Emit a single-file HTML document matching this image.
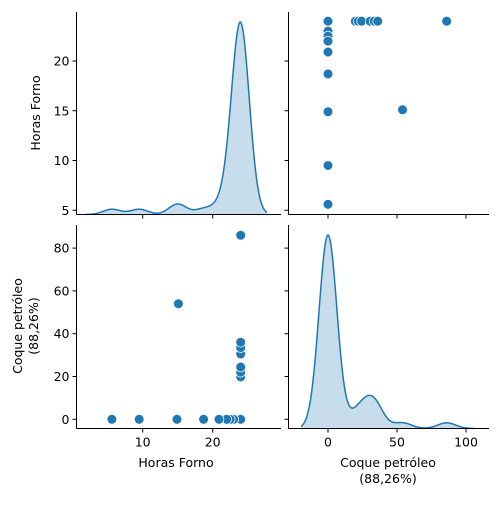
<!DOCTYPE html>
<html><head><meta charset="utf-8">
<style>
html,body{margin:0;padding:0;background:#fff;}
svg text{font-family:"DejaVu Sans","Liberation Sans",sans-serif;fill:#000;}
</style></head>
<body>
<svg id="chart" width="500" height="500" viewBox="0 0 500 500" xmlns="http://www.w3.org/2000/svg"></svg>
<script>
// Data (Horas Forno, Coque petróleo)
const horas = [24,23,22.5,22,20.9,18.7,14.9,9.5,5.6,15.1,24,24,24,24,24,24,24];
const coque = [0,0,0,0,0,0,0,0,0,54,19.8,22,24.4,30.5,33.5,36,86];
// duplicated observations hidden behind identical markers
const dupZeroCount = 25;
const dupCoque = [30.5,33.5];
const horasTicks = [5,10,15,20];
const horasXTicks = [10,20];
const coqueTicks = [0,20,40,60,80];
const coqueXTicks = [0,50,100];

const svg = document.getElementById('chart');
const NS = 'http://www.w3.org/2000/svg';
function mk(tag, attrs, parent){const e=document.createElementNS(NS,tag);for(const k in attrs)e.setAttribute(k,attrs[k]);(parent||svg).appendChild(e);return e;}

// scales
const hx = v => 72.7 + v*7;
const hy = v => 260 - v*9.95;
const cx = v => 328 + v*1.38;
const cy = v => 419.3 - v*2.14;

const allH = horas.concat(Array(dupZeroCount).fill(24), dupCoque.map(()=>24));
const allC = coque.concat(Array(dupZeroCount).fill(0), dupCoque);

function kde(arr, bw, lo, hi, n){
  const pts=[];
  for(let i=0;i<=n;i++){const x=lo+(hi-lo)*i/n;let s=0;for(const a of arr){const z=(x-a)/bw;s+=Math.exp(-0.5*z*z);}pts.push([x,s]);}
  return pts;
}
const blue='#1f77b4';

function drawKde(arr,bw,xs,baseY,topY,name){
  const lo=Math.min(...arr)-3*bw, hi=Math.max(...arr)+3*bw;
  const pts=kde(arr,bw,lo,hi,300);
  const mx=Math.max(...pts.map(p=>p[1]));
  const yy=d=>baseY-(d/mx)*(baseY-topY);
  let d='M'+xs(lo)+','+baseY;
  pts.forEach(p=>{d+=' L'+xs(p[0]).toFixed(2)+','+yy(p[1]).toFixed(2);});
  d+=' L'+xs(hi)+','+baseY+' Z';
  const f=mk('path',{d:d,fill:blue,'fill-opacity':0.25,stroke:'none'});
  
  
  let l='';
  pts.forEach((p,i)=>{l+=(i?' L':'M')+xs(p[0]).toFixed(2)+','+yy(p[1]).toFixed(2);});
  const ln=mk('path',{d:l,fill:'none',stroke:blue,'stroke-width':1.5});
  
  
}

function axes(x0,x1,y0,y1,name){
  const g=mk('g',{});
  
  
  mk('line',{x1:x0,y1:y0,x2:x0,y2:y1,stroke:'#000','stroke-width':1},g);
  mk('line',{x1:x0,y1:y1,x2:x1,y2:y1,stroke:'#000','stroke-width':1},g);
  return g;
}
function xticks(g,ticks,f,y,labels){
  ticks.forEach(t=>{const x=f(t);mk('line',{x1:x,y1:y,x2:x,y2:y+4,stroke:'#000','stroke-width':1},g);
    if(labels){const tx=mk('text',{x:x,y:y+18,'text-anchor':'middle','font-size':12.5},g);tx.textContent=t;
      
      }});
}
function yticks(g,ticks,f,x,labels){
  ticks.forEach(t=>{const y=f(t);mk('line',{x1:x-4,y1:y,x2:x,y2:y,stroke:'#000','stroke-width':1},g);
    if(labels){const tx=mk('text',{x:x-7,y:y+4.5,'text-anchor':'end','font-size':12.5},g);tx.textContent=t;
      
      }});
}

const L0=76.5,L1=281,R0=288.5,R1=489,T0=12,T1=214.5,B0=225,B1=428.5;

// top-left KDE horas
drawKde(allH,1.25,hx,T1,22,'horas-kde');
let g=axes(L0,L1,T0,T1,'top-left');
xticks(g,horasXTicks,hx,T1,false);
yticks(g,horasTicks,hy,L0,true);

// top-right scatter
g=axes(R0,R1,T0,T1,'top-right');
xticks(g,coqueXTicks,cx,T1,false);
yticks(g,horasTicks,hy,R0,false);
for(let i=0;i<horas.length;i++){
  const c=mk('circle',{cx:cx(coque[i]),cy:hy(horas[i]),r:4.9,fill:blue,stroke:'#fff','stroke-width':0.75});
  
  
}

// bottom-left scatter
g=axes(L0,L1,B0,B1,'bottom-left');
xticks(g,horasXTicks,hx,B1,true);
yticks(g,coqueTicks,cy,L0,true);
for(let i=0;i<horas.length;i++){
  const c=mk('circle',{cx:hx(horas[i]),cy:cy(coque[i]),r:4.9,fill:blue,stroke:'#fff','stroke-width':0.75});
  
  
}

// bottom-right KDE coque
drawKde(allC,6.5,cx,B1,235,'coque-kde');
g=axes(R0,R1,B0,B1,'bottom-right');
xticks(g,coqueXTicks,cx,B1,true);
yticks(g,coqueTicks,cy,R0,false);

function label(txt,x,y,rot,name){
  const t=mk('text',{x:x,y:y,'text-anchor':'middle','font-size':12.5});
  if(rot)t.setAttribute('transform','rotate(-90 '+x+' '+y+')');
  t.textContent=txt;
  
  
}
label('Horas Forno',40,113,true,'y-axis-title-horas');
label('Coque petróleo',22,326,true,'y-axis-title-coque');
label('(88,26%)',38,326,true,'y-axis-title-coque-pct');
label('Horas Forno',176,467,false,'x-axis-title-horas');
label('Coque petróleo',388,467,false,'x-axis-title-coque');
label('(88,26%)',388,483,false,'x-axis-title-coque-pct');
</script>
</body></html>
